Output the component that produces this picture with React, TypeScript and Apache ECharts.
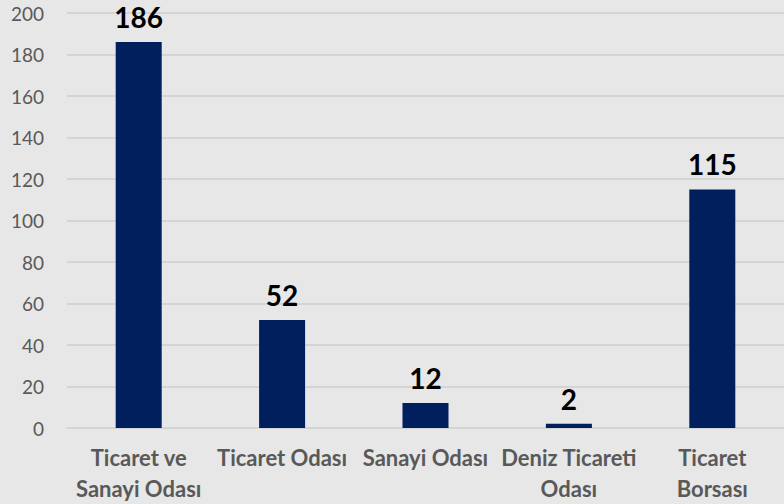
import React, { useEffect, useRef } from "react";
import * as echarts from "echarts";

const categories = [
  "Ticaret ve\nSanayi Odası",
  "Ticaret Odası",
  "Sanayi Odası",
  "Deniz Ticareti\nOdası",
  "Ticaret\nBorsası",
];
const values = [186, 52, 12, 2, 115];

export default function App() {
  const ref = useRef<HTMLDivElement>(null);
  useEffect(() => {
    if (!ref.current) return;
    const chart = echarts.init(ref.current, undefined, { renderer: "svg" });
    chart.setOption({
      animation: false,
      backgroundColor: "#e7e7e7",
      textStyle: { fontFamily: "Lato" },
      grid: { left: 67, right: 0, top: 13, bottom: 76 },
      xAxis: {
        type: "category",
        data: categories,
        axisLine: { show: true, lineStyle: { color: "#d4d4d4", width: 2 } },
        axisTick: { show: false },
        axisLabel: {
          color: "#595959",
          fontFamily: "Lato",
          fontWeight: "bold",
          fontSize: 22,
          lineHeight: 31,
          margin: 14,
          interval: 0,
        },
      },
      yAxis: {
        type: "value",
        min: 0,
        max: 200,
        interval: 20,
        axisLine: { show: false },
        axisTick: { show: false },
        splitLine: { lineStyle: { color: "#d4d4d4", width: 2 } },
        axisLabel: {
          margin: 23,
          color: "#595959",
          fontFamily: "Lato",
          fontSize: 19,
          align: "right",
          backgroundColor: "#e7e7e7",
        },
      },
      series: [
        {
          type: "bar",
          data: values,
          barWidth: 46,
          itemStyle: { color: "#001f5c" },
          label: {
            show: true,
            position: "top",
            distance: 11,
            color: "#000000",
            fontFamily: "Lato",
            fontWeight: "bold",
            fontSize: 28,
          },
        },
      ],
    });
    return () => chart.dispose();
  }, []);
  return (
    <div
      ref={ref}
      style={{ position: "absolute", left: 0, top: 0, width: 784, height: 504 }}
    />
  );
}
